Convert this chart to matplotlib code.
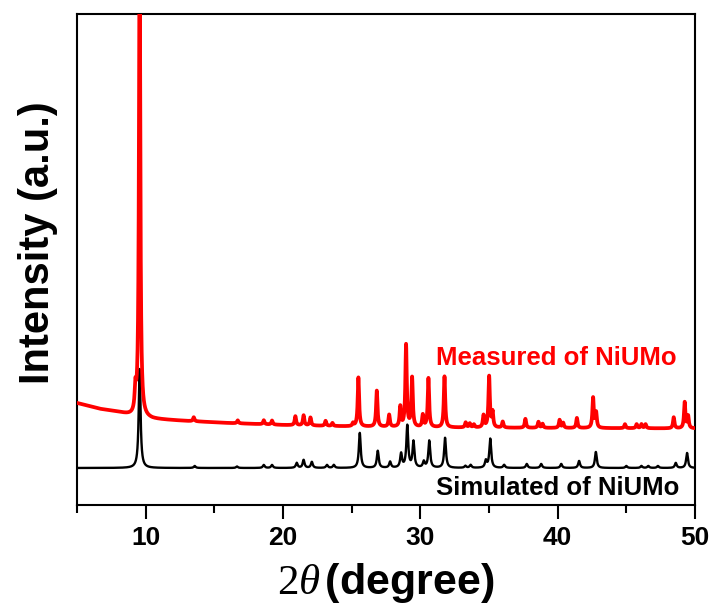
import numpy as np
import matplotlib
matplotlib.use("Agg")
import matplotlib.pyplot as plt
from matplotlib.ticker import MultipleLocator

plt.rcParams['mathtext.fontset'] = 'custom'
plt.rcParams['mathtext.rm'] = 'Liberation Serif'
plt.rcParams['mathtext.it'] = 'Liberation Serif:italic'
plt.rcParams['mathtext.bf'] = 'Liberation Sans:bold'

# ---- data (2theta in degree, intensity in arbitrary units) ----
# Measured pattern: background anchor points
meas_bg_x = [5.0, 6.7, 8.0, 9.0, 10.5, 13.0, 16.0, 20.0, 25.0, 30.0, 40.0, 50.0]
meas_bg_y = [102, 96, 93, 89, 86, 84, 82, 80, 78.5, 77.5, 77, 76.5]
# Measured pattern: peak positions, heights
meas_pos = [9.25, 9.56, 13.5, 16.7, 18.6, 19.2, 20.9, 21.5, 22.0, 23.1, 23.6, 25.1,
            25.49, 26.83, 27.73, 28.54, 28.96, 29.40, 30.18, 30.59, 31.76,
            33.3, 33.6, 33.9, 34.6, 35.01, 35.26, 36.0, 37.65, 38.6, 38.9,
            40.14, 40.4, 41.4, 42.58, 42.8, 44.9, 45.75, 46.1, 46.4, 48.45, 49.25, 49.5]
meas_h = [22, 470, 4, 3, 4, 4, 9, 10, 8, 5, 3, 3,
          49, 36, 12, 20, 82, 49, 12, 49, 51,
          5, 4, 3, 12, 51, 15, 6, 9, 6, 4,
          8, 5, 10, 30, 15, 4, 4, 4, 4, 11, 26, 12]
meas_w = 0.06

# Simulated pattern
sim_base = 37
sim_pos = [9.56, 13.57, 16.65, 18.6, 19.2, 21.0, 21.5, 22.1, 23.2, 23.7,
           25.59, 26.9, 27.8, 28.6, 29.05, 29.5, 30.25, 30.65, 31.8,
           33.28, 33.66, 34.77, 35.09, 36.1, 37.75, 38.8, 40.26, 41.56,
           42.78, 45.0, 46.1, 46.6, 47.3, 48.6, 49.42]
sim_h = [99, 2, 1.5, 3, 3, 5, 8, 6, 3, 3,
         35, 17, 6, 14, 42, 26, 6, 27, 30,
         2, 3, 7, 29, 3, 4, 4, 4, 7,
         16, 2, 2, 2, 2, 5, 15]
sim_w = 0.08

x_ticks = [10, 20, 30, 40, 50]


def profile(x, pos, h, w):
    y = np.zeros_like(x)
    for p, a in zip(pos, h):
        y += a / (1.0 + ((x - p) / w) ** 2)
    return y


x = np.linspace(5, 50, 9001)
y_meas = np.interp(x, meas_bg_x, meas_bg_y) + profile(x, meas_pos, meas_h, meas_w)
y_sim = sim_base + profile(x, sim_pos, sim_h, sim_w)

fig = plt.figure(figsize=(7.09, 6.10), dpi=100)
ax = fig.add_axes([77 / 709, 105 / 610, 618 / 709, 491 / 610])

ax.plot(x, y_sim, color='black', lw=1.7, zorder=2)
ax.plot(x, y_meas, color='#ff0000', lw=2.7, zorder=3)

ax.set_xlim(5, 50)
ax.set_ylim(0, 491)
ax.set_yticks([])
ax.xaxis.set_minor_locator(MultipleLocator(5))
ax.set_xticks(x_ticks)
ax.tick_params(axis='x', which='major', direction='out', length=10, width=1.5, pad=5)
ax.tick_params(axis='x', which='minor', direction='out', length=6, width=1.5)
for s in ax.spines.values():
    s.set_linewidth(1.5)

for lab in ax.get_xticklabels():
    lab.set_fontfamily(['Liberation Sans Narrow', 'Liberation Sans', 'DejaVu Sans'])
    lab.set_fontweight('bold')
    lab.set_fontsize(19)

ax.set_ylabel('Intensity (a.u.)', fontsize=30, fontweight='bold',
              family=['Liberation Sans', 'DejaVu Sans'])
ax.yaxis.set_label_coords(-0.031, 0.535)
ax.set_xlabel(r'$2\theta\,$(degree)', fontsize=31, fontweight='bold',
              family=['Liberation Sans Narrow', 'Liberation Sans', 'DejaVu Sans'], labelpad=8)

ax.text(0.97, 0.30, 'Measured of NiUMo', transform=ax.transAxes, ha='right', va='center',
        color='#ff0000', fontsize=18.5, fontweight='bold', family=['Liberation Sans', 'DejaVu Sans'])
ax.text(0.975, 0.035, 'Simulated of NiUMo', transform=ax.transAxes, ha='right', va='center',
        color='black', fontsize=18.5, fontweight='bold', family=['Liberation Sans', 'DejaVu Sans'])

fig.savefig('out.png', dpi=100)
